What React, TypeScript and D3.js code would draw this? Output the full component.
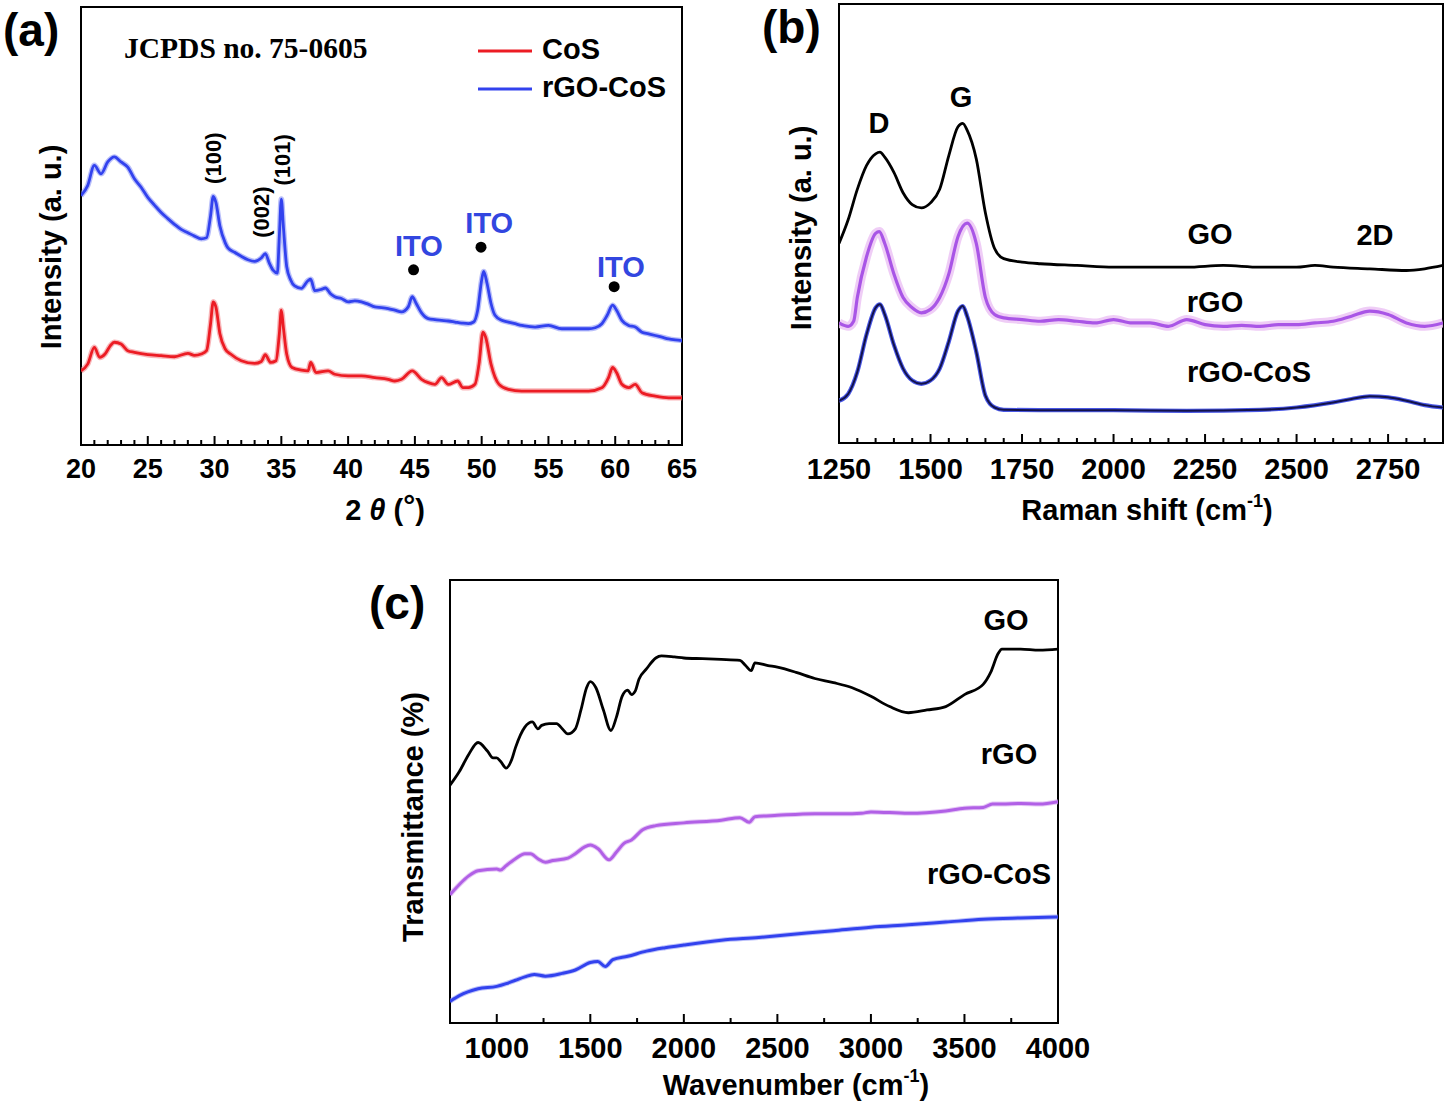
import React from "react";
import * as d3 from "d3";

// ---------------- DATA ----------------
// Panel (a) XRD, 2θ (deg) vs intensity (a.u.)
const xrdCoS: [number, number][] = [
  [20, 220], [20.5, 240], [21, 290], [21.4, 260], [21.8, 270], [22.2, 295], [22.5, 305], [23, 300], [23.5, 280],
  [24, 275], [25, 268], [26, 265], [27, 262], [28, 272], [28.5, 266], [29, 270], [29.4, 280], [29.7, 360],
  [29.9, 425], [30.1, 410], [30.4, 330], [30.8, 285], [31.2, 270], [32, 250], [33, 242], [33.5, 248], [33.8, 268],
  [34.2, 245], [34.6, 250], [34.85, 330], [35.0, 400], [35.15, 350], [35.4, 270], [35.8, 230], [36.5, 222],
  [37.0, 220], [37.2, 245], [37.6, 215], [38.5, 220], [39, 210], [40, 205], [41, 205], [42, 200], [43, 195],
  [43.5, 190], [44, 195], [44.8, 220], [45.5, 195], [46, 185], [46.5, 180], [47, 200], [47.5, 180], [48.2, 190],
  [48.6, 170], [49, 170], [49.5, 180], [49.8, 240], [50.1, 335], [50.3, 320], [50.7, 240], [51.3, 180], [52, 165],
  [53, 160], [54, 160], [55, 160], [56, 160], [57, 160], [58, 160], [59, 170], [59.5, 200], [59.8, 230],
  [60.1, 215], [60.5, 180], [61, 170], [61.5, 180], [62, 155], [63, 145], [64, 140], [65, 140],
];
const xrdRgoCoS: [number, number][] = [
  [20, 740], [20.5, 770], [21, 830], [21.5, 805], [22, 840], [22.5, 855], [23, 840], [23.5, 825], [24, 790],
  [24.5, 765], [25, 735], [25.5, 712], [26, 690], [26.5, 672], [27, 655], [27.5, 640], [28, 630], [28.5, 620],
  [29, 612], [29.4, 615], [29.7, 680], [29.9, 738], [30.1, 720], [30.4, 650], [30.8, 600], [31, 585], [31.5, 572],
  [32, 560], [32.5, 550], [33, 545], [33.5, 555], [33.8, 568], [34.1, 540], [34.4, 518], [34.7, 510], [34.85, 620],
  [35.0, 730], [35.15, 650], [35.4, 530], [35.7, 490], [36, 472], [36.5, 465], [37.0, 488], [37.2, 492],
  [37.5, 458], [38.0, 462], [38.3, 466], [38.7, 448], [39, 440], [39.5, 435], [40, 425], [40.5, 428], [41, 425],
  [41.5, 418], [42, 410], [42.5, 408], [43, 405], [43.5, 400], [44, 395], [44.5, 410], [44.8, 440], [45.1, 420],
  [45.5, 392], [46, 375], [46.5, 372], [47, 370], [47.5, 368], [48, 365], [48.5, 362], [49, 360], [49.4, 365],
  [49.7, 400], [50.0, 490], [50.15, 515], [50.4, 480], [50.7, 420], [51, 385], [51.5, 370], [52, 365], [52.5, 360],
  [53, 355], [53.5, 352], [54, 350], [55, 355], [56, 345], [57, 345], [58, 345], [58.5, 348], [59, 360],
  [59.4, 385], [59.8, 415], [60.1, 400], [60.5, 370], [61, 355], [61.5, 350], [62, 335], [62.5, 330], [63, 325],
  [63.5, 320], [64, 315], [64.5, 312], [65, 310],
];
const xrdTicks = [20, 25, 30, 35, 40, 45, 50, 55, 60, 65];
const xrdPlanes = [
  { label: "(100)", x: 29.95, y: 775 },
  { label: "(002)", x: 33.55, y: 615 },
  { label: "(101)", x: 35.05, y: 770 },
];
const itoMarks = [
  { labelX: 45.3, labelY: 560, dotX: 44.9, dotY: 520 },
  { labelX: 50.57, labelY: 630, dotX: 49.95, dotY: 587 },
  { labelX: 60.43, labelY: 500, dotX: 59.92, dotY: 470 },
];

// Panel (b) Raman shift (cm-1) vs intensity
const ramanGO: [number, number][] = [
  [1250, 590], [1275, 660], [1300, 750], [1325, 820], [1350, 855], [1362, 860], [1375, 845], [1400, 800],
  [1425, 740], [1450, 705], [1475, 695], [1500, 710], [1525, 750], [1550, 850], [1575, 935], [1588, 945],
  [1600, 925], [1625, 840], [1650, 680], [1675, 575], [1700, 545], [1750, 535], [1800, 530], [1900, 525],
  [2000, 520], [2100, 520], [2200, 520], [2300, 525], [2400, 520], [2500, 520], [2550, 525], [2600, 520],
  [2700, 515], [2800, 510], [2850, 515], [2900, 525],
];
const ramanRGO: [number, number][] = [
  [1250, 355], [1275, 345], [1290, 360], [1300, 430], [1325, 550], [1350, 620], [1360, 625], [1375, 590],
  [1400, 500], [1425, 430], [1450, 400], [1475, 385], [1500, 395], [1525, 430], [1550, 500], [1575, 610],
  [1600, 650], [1625, 590], [1650, 430], [1675, 380], [1700, 370], [1750, 365], [1800, 360], [1850, 365],
  [1900, 360], [1950, 355], [2000, 365], [2050, 355], [2100, 355], [2150, 345], [2200, 365], [2250, 350],
  [2300, 345], [2350, 348], [2400, 345], [2450, 350], [2500, 350], [2550, 355], [2600, 360], [2650, 375],
  [2700, 390], [2750, 380], [2800, 355], [2850, 345], [2900, 355],
];
const ramanRGOCoS: [number, number][] = [
  [1250, 125], [1275, 145], [1300, 210], [1325, 320], [1350, 400], [1362, 410], [1375, 380], [1400, 290],
  [1425, 220], [1450, 185], [1475, 175], [1500, 185], [1525, 220], [1550, 300], [1575, 390], [1588, 405],
  [1600, 375], [1625, 270], [1650, 140], [1675, 105], [1700, 98], [1800, 97], [2000, 97], [2200, 95],
  [2400, 98], [2500, 105], [2600, 120], [2650, 130], [2700, 138], [2750, 135], [2800, 125], [2850, 112],
  [2900, 105],
];
const ramanTicks = [1250, 1500, 1750, 2000, 2250, 2500, 2750];

// Panel (c) FTIR wavenumber (cm-1) vs transmittance
const ftirGO: [number, number][] = [
  [750, 695], [800, 735], [850, 785], [900, 820], [950, 795], [980, 775], [1000, 775], [1020, 765], [1050, 745],
  [1080, 770], [1100, 805], [1150, 865], [1190, 880], [1220, 860], [1240, 870], [1280, 875], [1320, 875],
  [1350, 860], [1380, 845], [1420, 860], [1450, 915], [1480, 980], [1500, 998], [1530, 980], [1570, 915],
  [1610, 855], [1640, 895], [1670, 955], [1700, 973], [1720, 960], [1740, 970], [1760, 1005], [1800, 1035],
  [1850, 1067], [1880, 1073], [1950, 1070], [2000, 1067], [2100, 1065], [2200, 1063], [2300, 1060],
  [2330, 1045], [2360, 1030], [2380, 1053], [2450, 1045], [2500, 1040], [2600, 1025], [2700, 1007],
  [2800, 995], [2900, 980], [3000, 955], [3100, 925], [3200, 907], [3300, 915], [3400, 925], [3500, 960],
  [3600, 990], [3640, 1025], [3680, 1080], [3700, 1093], [3800, 1093], [3900, 1090], [4000, 1093],
];
const ftirRGO: [number, number][] = [
  [750, 375], [800, 405], [850, 430], [900, 445], [1000, 450], [1020, 447], [1050, 460], [1100, 480],
  [1150, 495], [1180, 495], [1220, 480], [1260, 470], [1300, 475], [1380, 482], [1420, 495], [1470, 515],
  [1500, 520], [1540, 510], [1600, 477], [1640, 500], [1680, 525], [1720, 535], [1780, 565], [1850, 577],
  [2000, 585], [2200, 593], [2300, 600], [2350, 587], [2380, 603], [2500, 607], [2700, 612], [2900, 612],
  [2950, 613], [3000, 617], [3200, 613], [3400, 620], [3500, 628], [3600, 630], [3650, 640], [3700, 640],
  [3800, 642], [3900, 640], [4000, 647],
];
const ftirRGOCoS: [number, number][] = [
  [750, 63], [800, 80], [900, 100], [1000, 107], [1050, 115], [1100, 125], [1150, 135], [1200, 142],
  [1260, 137], [1350, 145], [1420, 155], [1500, 177], [1540, 180], [1580, 165], [1620, 185], [1700, 195],
  [1800, 210], [1900, 220], [2000, 228], [2200, 242], [2400, 250], [2600, 260], [2800, 270], [3000, 280],
  [3200, 287], [3400, 295], [3600, 303], [3800, 307], [4000, 310],
];
const ftirTicks = [1000, 1500, 2000, 2500, 3000, 3500, 4000];

// ---------------- LAYOUT ----------------
const W = 1450;
const H = 1107;
const SANS = "'Liberation Sans', Arial, Helvetica, sans-serif";
const SERIF = "'Liberation Serif', 'Times New Roman', serif";

const xA = d3.scaleLinear().domain([20, 65]).range([81, 682]);
const yA = d3.scaleLinear().domain([0, 1300]).range([445, 7]);
const xB = d3.scaleLinear().domain([1250, 2900]).range([839, 1443]);
const yB = d3.scaleLinear().domain([0, 1298]).range([443, 4]);
const xC = d3.scaleLinear().domain([750, 4000]).range([450, 1058]);
const yC = d3.scaleLinear().domain([0, 1295]).range([1023, 580]);

type Scale = d3.ScaleLinear<number, number>;

function mkLine(x: Scale, y: Scale) {
  return d3
    .line<[number, number]>()
    .x((d) => x(d[0]))
    .y((d) => y(d[1]))
    .curve(d3.curveMonotoneX);
}

function Frame({ x, y, id }: { x: Scale; y: Scale; id: string }) {
  const [x0, x1] = x.range();
  const [y0, y1] = y.range();
  return (
    <>
      <defs>
        <clipPath id={id}>
          <rect x={x0} y={y1} width={x1 - x0} height={y0 - y1} />
        </clipPath>
      </defs>
      <rect x={x0} y={y1} width={x1 - x0} height={y0 - y1} fill="none" stroke="#000" strokeWidth={2} />
    </>
  );
}

function BottomTicks({
  x,
  y,
  minorStep,
  majorStep,
  labels,
  fontSize,
  labelY,
}: {
  x: Scale;
  y: Scale;
  minorStep: number;
  majorStep: number;
  labels: number[];
  fontSize: number;
  labelY: number;
}) {
  const [d0, d1] = x.domain();
  const yb = y.range()[0];
  const ticks = d3.range(Math.ceil(d0 / minorStep) * minorStep, d1 + 1e-6, minorStep);
  return (
    <g>
      {ticks.map((t) => {
        const major = Math.abs(t / majorStep - Math.round(t / majorStep)) < 1e-6;
        return (
          <line
            key={t}
            x1={x(t)}
            x2={x(t)}
            y1={yb}
            y2={yb - (major ? 9 : 5)}
            stroke="#000"
            strokeWidth={2}
          />
        );
      })}
      {labels.map((t) => (
        <text
          key={"l" + t}
          x={x(t)}
          y={labelY}
          textAnchor="middle"
          fontFamily={SANS}
          fontWeight="bold"
          fontSize={fontSize}
        >
          {t}
        </text>
      ))}
    </g>
  );
}

function BoldText({
  x,
  y,
  children,
  size = 29,
  anchor = "middle",
  fill = "#000",
}: {
  x: number;
  y: number;
  children: React.ReactNode;
  size?: number;
  anchor?: string;
  fill?: string;
}) {
  return (
    <text x={x} y={y} textAnchor={anchor as any} fontFamily={SANS} fontWeight="bold" fontSize={size} fill={fill}>
      {children}
    </text>
  );
}

function VLabel({ x, y, children, size = 29 }: { x: number; y: number; children: React.ReactNode; size?: number }) {
  return (
    <text
      transform={`translate(${x},${y}) rotate(-90)`}
      textAnchor="middle"
      dominantBaseline="central"
      fontFamily={SANS}
      fontWeight="bold"
      fontSize={size}
    >
      {children}
    </text>
  );
}

export default function App() {
  const lA = mkLine(xA, yA);
  const lB = mkLine(xB, yB);
  const lC = mkLine(xC, yC);
  const red = "#ec1c24";
  const blue = "#3242ee";
  const purple = "#a955e6";

  return (
    <svg
      width={W}
      height={H}
      viewBox={`0 0 ${W} ${H}`}
      style={{ position: "absolute", left: 0, top: 0, background: "#fff" }}
    >
      <rect x={0} y={0} width={W} height={H} fill="#fff" />

      {/* ---------- Panel (a) ---------- */}
      <Frame x={xA} y={yA} id="clipA" />
      <g clipPath="url(#clipA)" fill="none" strokeLinejoin="round">
        <path d={lA(xrdCoS) || ""} stroke="#f27a80" strokeWidth={5.5} opacity={0.55} />
        <path d={lA(xrdCoS) || ""} stroke={red} strokeWidth={2.8} />
        <path d={lA(xrdRgoCoS) || ""} stroke="#7f8af5" strokeWidth={5.5} opacity={0.55} />
        <path d={lA(xrdRgoCoS) || ""} stroke={blue} strokeWidth={2.8} />
      </g>
      <BottomTicks x={xA} y={yA} minorStep={1} majorStep={5} labels={xrdTicks} fontSize={27} labelY={478} />
      {xrdPlanes.map((p) => (
        <text
          key={p.label}
          transform={`translate(${xA(p.x)},${yA(p.y)}) rotate(-90)`}
          textAnchor="start"
          dominantBaseline="central"
          fontFamily={SANS}
          fontWeight="bold"
          fontSize={22}
        >
          {p.label}
        </text>
      ))}
      {itoMarks.map((m, i) => (
        <g key={i}>
          <circle cx={xA(m.dotX)} cy={yA(m.dotY)} r={5.5} fill="#000" />
          <BoldText x={xA(m.labelX)} y={yA(m.labelY)} fill="#3246e0">
            ITO
          </BoldText>
        </g>
      ))}
      <text x={124} y={58} fontFamily={SERIF} fontWeight="bold" fontSize={29.5}>
        JCPDS no. 75-0605
      </text>
      <line x1={478} x2={532} y1={51} y2={51} stroke={red} strokeWidth={3} />
      <line x1={478} x2={532} y1={89} y2={89} stroke={blue} strokeWidth={3} />
      <BoldText x={542} y={59} anchor="start">
        CoS
      </BoldText>
      <BoldText x={542} y={97} anchor="start">
        rGO-CoS
      </BoldText>
      <VLabel x={51} y={247}>
        Intensity (a. u.)
      </VLabel>
      <text x={385} y={520} textAnchor="middle" fontFamily={SANS} fontWeight="bold" fontSize={29}>
        <tspan>2 </tspan>
        <tspan fontStyle="italic">θ</tspan>
        <tspan> (</tspan>
        <tspan fontSize={30} dy={-4}>°</tspan>
        <tspan dy={4}>)</tspan>
      </text>
      <BoldText x={3} y={46} size={46} anchor="start">
        (a)
      </BoldText>

      {/* ---------- Panel (b) ---------- */}
      <Frame x={xB} y={yB} id="clipB" />
      <g clipPath="url(#clipB)" fill="none" strokeLinejoin="round">
        <path d={lB(ramanGO) || ""} stroke="#000" strokeWidth={2.8} />
        <path d={lB(ramanRGO) || ""} stroke="#ecc4f4" strokeWidth={9} opacity={0.85} />
        <path d={lB(ramanRGO) || ""} stroke={purple} strokeWidth={3.2} />
        <path d={lB(ramanRGOCoS) || ""} stroke="#4a58e6" strokeWidth={4.2} />
        <path d={lB(ramanRGOCoS) || ""} stroke="#12124a" strokeWidth={2} />
      </g>
      <BottomTicks x={xB} y={yB} minorStep={50} majorStep={250} labels={ramanTicks} fontSize={29} labelY={479} />
      <BoldText x={879} y={133}>D</BoldText>
      <BoldText x={961} y={107}>G</BoldText>
      <BoldText x={1210} y={244}>GO</BoldText>
      <BoldText x={1375} y={245}>2D</BoldText>
      <BoldText x={1215} y={312}>rGO</BoldText>
      <BoldText x={1249} y={382}>rGO-CoS</BoldText>
      <VLabel x={801} y={228}>
        Intensity (a. u.)
      </VLabel>
      <text x={1147} y={520} textAnchor="middle" fontFamily={SANS} fontWeight="bold" fontSize={29}>
        <tspan>Raman shift (cm</tspan>
        <tspan fontSize={18} dy={-13}>-1</tspan>
        <tspan dy={13}>)</tspan>
      </text>
      <BoldText x={762} y={43} size={46} anchor="start">
        (b)
      </BoldText>

      {/* ---------- Panel (c) ---------- */}
      <Frame x={xC} y={yC} id="clipC" />
      <g clipPath="url(#clipC)" fill="none" strokeLinejoin="round">
        <path d={lC(ftirGO) || ""} stroke="#000" strokeWidth={2.8} />
        <path d={lC(ftirRGO) || ""} stroke="#dcb0f2" strokeWidth={5} opacity={0.7} />
        <path d={lC(ftirRGO) || ""} stroke="#b160e6" strokeWidth={3} />
        <path d={lC(ftirRGOCoS) || ""} stroke="#8f98f6" strokeWidth={5} opacity={0.6} />
        <path d={lC(ftirRGOCoS) || ""} stroke={blue} strokeWidth={3} />
      </g>
      <BottomTicks x={xC} y={yC} minorStep={250} majorStep={500} labels={ftirTicks} fontSize={29} labelY={1058} />
      <BoldText x={1006} y={630}>GO</BoldText>
      <BoldText x={1009} y={764}>rGO</BoldText>
      <BoldText x={989} y={884}>rGO-CoS</BoldText>
      <VLabel x={413} y={817}>
        Transmittance (%)
      </VLabel>
      <text x={796} y={1095} textAnchor="middle" fontFamily={SANS} fontWeight="bold" fontSize={29}>
        <tspan>Wavenumber (cm</tspan>
        <tspan fontSize={18} dy={-13}>-1</tspan>
        <tspan dy={13}>)</tspan>
      </text>
      <BoldText x={369} y={619} size={46} anchor="start">
        (c)
      </BoldText>
    </svg>
  );
}
